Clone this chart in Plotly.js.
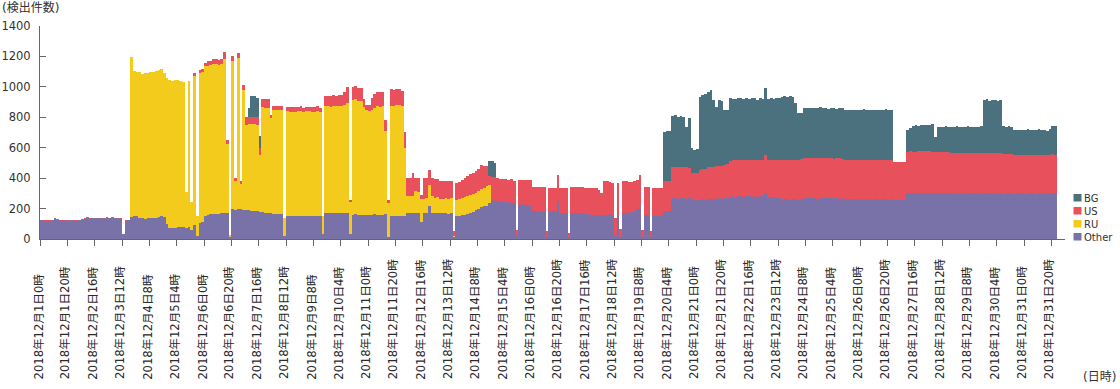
<!DOCTYPE html>
<html>
<head>
<meta charset="utf-8">
<script src="https://cdn.plot.ly/plotly-3.0.1.min.js"></script>
<style>html,body{margin:0;padding:0;background:#fff;}#chart{width:1120px;height:389px;}</style>
</head>
<body>
<div id="chart"></div>
<script>
// Hourly detections, December 2018, aggregated into 2-hour bins (bin i starts at hour 2*i)
const Other = [
125,120,118,120,122,135,128,122,120,124,
121,123,120,119,124,126,133,136,134,137,
135,138,136,134,139,137,140,136,138,133,
35,120,122,145,150,148,140,135,132,135,
138,135,140,145,150,142,100,72,75,70,
78,82,80,70,80,60,95,20,105,110,
150,158,162,165,163,166,168,170,170,10,
195,190,200,195,192,190,188,186,185,184,
175,175,172,170,168,165,167,164,166,20,
152,150,148,150,151,149,150,152,150,148,
150,151,149,30,172,170,168,171,170,172,
170,168,172,30,160,162,158,160,160,158,
156,160,162,160,158,161,165,15,148,150,
152,150,148,150,170,172,170,168,170,115,
170,172,218,172,170,168,170,168,170,166,
168,10,148,150,155,160,165,170,180,190,
200,212,214,215,235,255,250,248,245,246,
242,240,238,236,20,225,228,224,222,220,
185,182,180,181,183,15,180,182,181,247,
170,172,170,15,170,172,168,170,168,166,
162,160,161,160,158,155,160,158,162,160,
20,160,15,170,168,172,175,178,195,214,
10,160,158,10,150,148,150,155,181,183,
181,268,270,266,270,268,265,268,258,255,
256,258,260,258,262,260,265,262,268,265,
268,270,275,280,278,282,280,276,280,282,
278,280,276,280,282,300,276,278,275,272,
270,258,260,262,258,260,262,258,260,268,
270,268,272,270,266,270,268,272,270,268,
270,268,266,270,264,262,260,262,258,262,
260,258,262,260,258,262,260,258,262,260,
258,260,258,256,255,258,256,300,302,305,
300,304,302,300,305,302,300,302,300,302,
304,300,302,300,298,300,302,300,298,300,
302,300,298,300,302,300,302,300,298,300,
302,300,298,300,302,300,298,300,302,300,
298,300,302,300,298,300,302,300,298,300,
302,300
];
const RU = [
0,0,0,0,0,0,0,0,0,0,
0,0,0,0,0,0,0,0,0,0,
0,0,0,0,0,0,0,0,0,0,
0,0,0,1050,955,952,955,950,960,955,
960,960,965,963,965,950,960,973,965,972,
970,958,950,236,958,180,975,130,985,990,
985,982,980,983,985,978,980,1015,455,15,
975,190,990,165,790,560,566,568,569,566,
380,695,690,688,625,683,680,685,682,120,
688,687,690,686,688,690,684,687,690,688,
686,689,683,120,700,705,702,703,706,700,
704,710,725,210,752,755,750,745,705,690,
688,690,700,712,710,715,545,220,725,722,
726,728,725,445,110,108,112,145,142,145,
95,98,138,110,100,105,95,92,100,98,
100,10,110,112,115,115,120,122,118,115,
118,118,120,135,120,0,0,0,0,0,
0,0,0,0,0,0,0,0,0,0,
0,0,0,0,0,0,0,0,0,0,
0,0,0,0,0,0,0,0,0,0,
0,0,0,0,0,0,0,0,0,0,
0,0,0,0,0,0,0,0,0,0,
0,0,0,0,0,0,0,0,0,0,
0,0,0,0,0,0,0,0,0,0,
0,0,0,0,0,0,0,0,0,0,
0,0,0,0,0,0,0,0,0,0,
0,0,0,0,0,0,0,0,0,0,
0,0,0,0,0,0,0,0,0,0,
0,0,0,0,0,0,0,0,0,0,
0,0,0,0,0,0,0,0,0,0,
0,0,0,0,0,0,0,0,0,0,
0,0,0,0,0,0,0,0,0,0,
0,0,0,0,0,0,0,0,0,0,
0,0,0,0,0,0,0,0,0,0,
0,0,0,0,0,0,0,0,0,0,
0,0,0,0,0,0,0,0,0,0,
0,0,0,0,0,0,0,0,0,0,
0,0
];
const US = [
3,2,4,3,2,5,3,2,4,3,
2,3,4,3,2,3,5,6,4,3,
4,3,5,6,4,3,5,4,3,2,
0,3,2,0,0,0,0,0,0,0,
0,0,0,0,0,0,0,0,0,0,
0,0,0,0,0,0,20,0,22,20,
25,28,30,32,35,34,32,45,25,0,
30,20,32,20,33,55,50,48,46,50,
40,50,60,65,22,25,28,22,26,0,
30,28,32,30,29,33,28,31,27,34,
30,33,28,0,70,65,68,70,66,72,
75,90,100,15,88,90,86,85,55,30,
40,75,90,95,95,92,70,20,110,108,
105,107,103,110,120,118,155,88,90,30,
135,130,98,118,125,122,115,118,110,114,
112,30,110,115,118,125,128,133,135,140,
142,155,146,130,60,155,160,150,148,150,
155,150,155,148,40,162,160,165,168,165,
160,163,165,160,162,35,155,150,155,175,
165,162,163,25,170,168,175,170,172,170,
175,174,175,172,165,146,218,220,215,210,
120,207,50,208,210,205,200,202,190,208,
50,185,187,40,184,186,182,180,197,195,
197,208,205,210,206,208,205,200,175,178,
180,197,200,205,210,215,210,215,215,215,
218,220,240,238,242,236,240,244,238,240,
242,236,240,238,240,250,242,240,243,245,
248,262,258,260,262,258,260,262,265,262,
260,265,258,262,264,260,262,260,262,264,
258,262,264,258,256,258,260,256,260,258,
262,258,256,260,262,256,258,262,256,258,
260,258,250,252,248,245,250,272,275,270,
275,272,275,278,272,274,275,272,275,272,
270,272,270,268,270,268,266,268,270,268,
266,265,268,266,265,268,266,268,270,266,
265,268,262,260,258,260,255,253,252,254,
255,252,250,253,255,252,250,253,255,252,
254,255
];
const BG = [
0,0,0,0,0,0,0,0,0,0,
0,0,0,0,0,0,0,0,0,0,
0,0,0,0,0,0,0,0,0,0,
0,0,0,0,0,0,0,0,0,0,
0,0,0,0,0,0,0,0,0,0,
0,0,0,0,0,0,0,0,0,0,
0,0,0,0,0,0,0,0,0,0,
0,0,0,0,0,0,60,135,140,128,
80,0,0,0,0,0,0,0,0,0,
0,0,0,0,0,0,0,0,0,0,
0,0,0,0,0,0,0,0,0,0,
0,0,0,0,0,0,0,0,0,0,
0,0,0,0,0,0,0,0,0,0,
0,0,0,0,0,0,0,0,0,0,
0,0,0,0,0,0,0,0,0,0,
0,0,0,0,0,0,0,0,0,0,
0,0,0,0,95,100,90,0,0,0,
0,0,0,0,0,0,0,0,0,0,
0,0,0,0,0,0,0,0,0,0,
0,0,0,0,0,0,0,0,0,0,
0,0,0,0,0,0,0,0,0,0,
0,0,0,0,0,0,0,0,0,0,
0,0,0,0,0,0,0,0,328,330,
330,330,340,325,335,324,269,325,165,150,
155,480,485,490,495,504,438,393,430,430,
362,360,410,405,400,410,404,400,408,400,
404,412,400,406,400,440,405,408,402,408,
410,415,420,410,418,416,370,306,301,330,
329,325,332,326,330,335,328,330,325,330,
332,325,328,330,328,330,325,332,330,328,
325,336,328,330,325,332,330,326,330,334,
330,332,0,0,0,0,0,145,150,165,
175,170,175,170,175,172,178,96,164,165,
162,168,165,170,168,172,168,170,165,172,
170,168,172,170,175,345,350,342,345,348,
343,345,180,178,180,175,165,162,165,160,
165,168,165,162,165,168,162,165,160,168,
185,188
];
const seriesNames = ['Other', 'RU', 'US', 'BG'];
const seriesColors = {Other: '#7872a8', RU: '#f2cb1c', US: '#e8505b', BG: '#4b717f'};
const legendOrder = ['BG', 'US', 'RU', 'Other'];
const tickHours = [0,20,40,60,80,100,120,140,160,180,200,220,240,260,280,300,320,340,360,380,400,420,440,460,480,500,520,540,560,580,600,620,640,660,680,700,720,740];
const tickLabels = [
"2018年12月1日0時","2018年12月1日20時","2018年12月2日16時","2018年12月3日12時","2018年12月4日8時",
"2018年12月5日4時","2018年12月6日0時","2018年12月6日20時","2018年12月7日16時","2018年12月8日12時",
"2018年12月9日8時","2018年12月10日4時","2018年12月11日0時","2018年12月11日20時","2018年12月12日16時",
"2018年12月13日12時","2018年12月14日8時","2018年12月15日4時","2018年12月16日0時","2018年12月16日20時",
"2018年12月17日16時","2018年12月18日12時","2018年12月19日8時","2018年12月20日4時","2018年12月21日0時",
"2018年12月21日20時","2018年12月22日16時","2018年12月23日12時","2018年12月24日8時","2018年12月25日4時",
"2018年12月26日0時","2018年12月26日20時","2018年12月27日16時","2018年12月28日12時","2018年12月29日8時",
"2018年12月30日4時","2018年12月31日0時","2018年12月31日20時"
];
const yTitle = '(検出件数)';
const xTitle = '(日時)';

const data = {Other, RU, US, BG};
[RU, US, BG].forEach(a => { if (a.length !== Other.length) throw new Error('length mismatch ' + a.length + ' vs ' + Other.length); });
if (tickLabels.length !== tickHours.length) throw new Error('tick mismatch');

const BIN = 2;
const binCenters = Other.map((_, i) => i * BIN + BIN / 2);

const W = 1120, H = 389, ML = 40, MR = 55, MT = 26, MB = 150;
const PW = W - ML - MR, PH = H - MT - MB;
const px = x => (x - ML) / PW;
const py = y => (H - MB - y) / PH;
const FONT = '"DejaVu Sans", "Noto Sans CJK JP", sans-serif';

const traces = seriesNames.map(n => ({
  type: 'bar', name: n, x: binCenters, y: data[n], width: BIN,
  marker: {color: seriesColors[n], line: {width: 0}},
  hoverinfo: 'x+y+name'
}));

const shapes = [], annotations = [];
// x tick labels: rotated, bottom-aligned as in the reference
tickHours.forEach((h, k) => {
  annotations.push({xref: 'x', yref: 'paper', x: h, y: py(380.5), xanchor: 'center', yanchor: 'bottom', xshift: -2,
    textangle: -90, showarrow: false, text: tickLabels[k], borderpad: 0,
    font: {family: FONT, size: 11.6, color: '#2a2a2a'}});
});
// legend
const LEG_STEP = 13, LEG_TOP = 194;
legendOrder.forEach((n, k) => {
  const top = LEG_TOP + k * LEG_STEP;
  shapes.push({type: 'rect', xref: 'paper', yref: 'paper', x0: px(1073.5), x1: px(1081.5), y0: py(top + 7.5), y1: py(top), fillcolor: seriesColors[n], line: {width: 0}});
});
annotations.push({xref: 'paper', yref: 'paper', x: px(1082.5), y: py(LEG_TOP + 4 + 1.5 * LEG_STEP), xanchor: 'left', yanchor: 'middle', align: 'left', showarrow: false, text: legendOrder.join('<br>'), font: {family: FONT, size: 10, color: '#333'}, borderpad: 0});
// axis titles
annotations.push({xref: 'paper', yref: 'paper', x: px(0), y: py(8), xanchor: 'left', yanchor: 'middle', showarrow: false, text: yTitle, font: {family: FONT, size: 12, color: '#333'}});
annotations.push({xref: 'paper', yref: 'paper', x: px(1081), y: py(377), xanchor: 'left', yanchor: 'middle', showarrow: false, text: xTitle, font: {family: FONT, size: 12, color: '#333'}});

const layout = {
  width: W, height: H,
  margin: {l: ML, r: MR, t: MT, b: MB, pad: 0},
  barmode: 'stack', bargap: 0,
  showlegend: false,
  paper_bgcolor: '#ffffff', plot_bgcolor: '#ffffff',
  font: {family: FONT, size: 12, color: '#333'},
  xaxis: {
    range: [0, 750], tickmode: 'array', tickvals: tickHours, showticklabels: false,
    ticks: 'outside', ticklen: 6, tickcolor: '#666', tickwidth: 1,
    showline: true, linecolor: '#666', linewidth: 1, showgrid: false, zeroline: false
  },
  yaxis: {
    range: [0, 1400], tick0: 0, dtick: 200, ticks: 'inside', ticklen: 6, tickcolor: '#666',
    showline: true, linecolor: '#666', linewidth: 1, showgrid: false, zeroline: false,
    tickfont: {family: FONT, size: 11.5, color: '#333'}, ticklabelstandoff: 6
  },
  shapes, annotations
};

Plotly.newPlot('chart', traces, layout, {displayModeBar: false, staticPlot: true});
</script>
</body>
</html>
